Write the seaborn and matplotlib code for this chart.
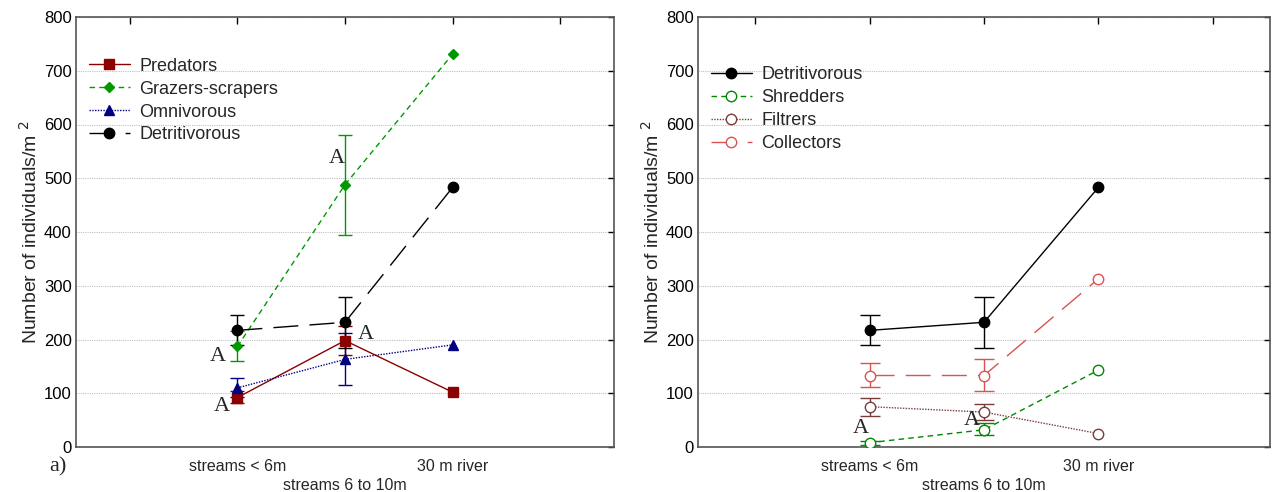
import numpy as np
import pandas as pd
import matplotlib
matplotlib.use("Agg")
import matplotlib.pyplot as plt
import seaborn as sns

# ---- data ----
positions = [1, 2, 3]
cat_labels = ["streams < 6m", "streams 6 to 10m", "30 m river"]

predators = [92, 198, 102]
predators_lo = [82, 172, None]
predators_hi = [105, 225, None]

grazers = [187, 488, 731]
grazers_lo = [160, 395, None]
grazers_hi = [215, 580, None]

omnivorous = [110, 163, 190]
omnivorous_lo = [93, 115, None]
omnivorous_hi = [128, 213, None]

detritivorous = [217, 232, 483]
detritivorous_lo = [190, 185, None]
detritivorous_hi = [246, 280, None]

shredders = [8, 32, 143]
shredders_lo = [4, 22, None]
shredders_hi = [12, 45, None]

filtrers = [75, 65, 25]
filtrers_lo = [58, 50, None]
filtrers_hi = [92, 80, None]

collectors = [133, 133, 313]
collectors_lo = [112, 105, None]
collectors_hi = [157, 163, None]

sns.set_style("white")
plt.rcParams['font.family'] = ['Liberation Sans', 'DejaVu Sans']

fig = plt.figure(figsize=(12.73, 4.92), dpi=100)
axL = fig.add_axes([76/1273, 45/492, 538/1273, 430/492])
axR = fig.add_axes([698/1273, 45/492, 572/1273, 430/492])


def draw(ax, name, vals, lo, hi, color, ls, marker, mfc, ms, capsize):
    df = pd.DataFrame({"x": positions, "y": vals})
    sns.lineplot(data=df, x="x", y="y", ax=ax, color=color, linestyle=ls,
                 linewidth=1.0, marker=marker, markersize=ms,
                 markerfacecolor=mfc, markeredgecolor=color, markeredgewidth=1.0,
                 label=name, zorder=3)
    xs, ys, el, eh = [], [], [], []
    for p, v, l, h in zip(positions, vals, lo, hi):
        if l is not None:
            xs.append(p); ys.append(v); el.append(v - l); eh.append(h - v)
    ax.errorbar(xs, ys, yerr=[el, eh], fmt="none", ecolor=color,
                elinewidth=1.0, capsize=capsize, capthick=1.0, zorder=2)


# left panel
draw(axL, "Predators", predators, predators_lo, predators_hi,
     "#8b0000", "-", "s", "#8b0000", 7, 5)
draw(axL, "Grazers-scrapers", grazers, grazers_lo, grazers_hi,
     "#009900", (0, (4, 3)), "D", "#009900", 5, 5)
draw(axL, "Omnivorous", omnivorous, omnivorous_lo, omnivorous_hi,
     "#000080", (0, (1, 1)), "^", "#000080", 7, 5)
draw(axL, "Detritivorous", detritivorous, detritivorous_lo, detritivorous_hi,
     "black", (0, (18, 8)), "o", "black", 7.5, 5)

# right panel
draw(axR, "Detritivorous", detritivorous, detritivorous_lo, detritivorous_hi,
     "black", "-", "o", "black", 7.5, 7)
draw(axR, "Shredders", shredders, shredders_lo, shredders_hi,
     "#008800", (0, (4, 3)), "o", "white", 7.5, 7)
draw(axR, "Filtrers", filtrers, filtrers_lo, filtrers_hi,
     "#7a3b3b", (0, (1, 1)), "o", "white", 7.5, 7)
draw(axR, "Collectors", collectors, collectors_lo, collectors_hi,
     "#d9534f", (0, (18, 8)), "o", "white", 7.5, 7)

for ax, anchor in ((axL, (0.0, 0.935)), (axR, (0.0, 0.915))):
    ax.set_xlim(-0.5, 4.5)
    ax.set_ylim(0, 800)
    ax.set_yticks(range(0, 801, 100))
    ax.set_xticks([0, 1, 2, 3, 4])
    ax.set_xticklabels([])
    ax.yaxis.grid(True, linestyle=(0, (1, 1)), color="#c0c0c0", linewidth=0.8)
    ax.xaxis.grid(False)
    ax.set_axisbelow(True)
    ax.tick_params(axis="both", direction="in", length=4, width=1,
                   top=True, right=True, labelsize=12, colors="black", pad=3)
    ax.tick_params(axis="x", length=5)
    for s in ax.spines.values():
        s.set_color("#555555")
        s.set_linewidth(1.2)
    ax.set_xlabel("")
    ax.set_ylabel("Number of individuals/m $^{2}$", fontsize=14, labelpad=2)
    for p, lab in zip(positions, cat_labels):
        off = -28 if p == 2 else -14
        ax.annotate(lab, xy=(p, 0), xycoords=("data", "axes fraction"),
                    xytext=(0, off), textcoords="offset points",
                    ha="center", va="center", fontsize=11.5)
    leg = ax.legend(loc="upper left", bbox_to_anchor=anchor, frameon=False,
                    fontsize=13, handlelength=2.3, handletextpad=0.5,
                    labelspacing=0.33, borderaxespad=0.3)

serif = ["Liberation Serif", "DejaVu Serif"]
for ax, x, y in ((axL, 0.82, 168), (axL, 0.86, 76), (axL, 1.92, 536), (axL, 2.19, 210),
                 (axR, 0.92, 35), (axR, 1.89, 50)):
    ax.text(x, y, "A", family=serif, fontsize=16, ha="center", va="center")

fig.text(58/1273, 1 - 467/492, "a)", family=serif, fontsize=16, ha="center", va="center")

fig.savefig("out.png", dpi=100)
